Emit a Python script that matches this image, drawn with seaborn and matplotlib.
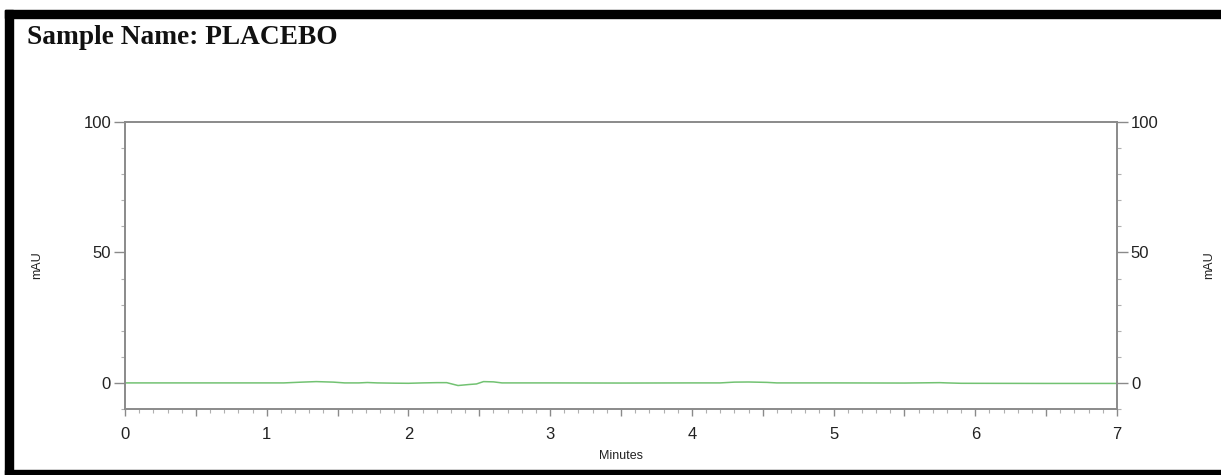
import pandas as pd
import matplotlib.pyplot as plt
import seaborn as sns
from matplotlib.ticker import MultipleLocator, FuncFormatter
from matplotlib.patches import Rectangle

# chromatogramme du placebo
minutes = [0.0, 0.5, 1.0, 1.12, 1.25, 1.35, 1.47, 1.55, 1.65, 1.71, 1.78, 1.9, 2.0,
           2.1, 2.2, 2.27, 2.35, 2.43, 2.48, 2.53, 2.6, 2.66, 3.0, 3.5, 4.0, 4.2,
           4.3, 4.4, 4.53, 4.6, 5.0, 5.5, 5.75, 5.8, 5.9, 6.5, 7.0]
mau = [0.0, 0.0, 0.0, 0.0, 0.3, 0.5, 0.3, 0.0, 0.0, 0.15, 0.0, -0.1, -0.15,
       0.0, 0.1, 0.1, -1.0, -0.6, -0.4, 0.5, 0.4, 0.0, 0.0, -0.05, 0.0, 0.0,
       0.3, 0.35, 0.2, 0.0, 0.0, -0.05, 0.1, 0.0, -0.15, -0.2, -0.2]

df = pd.DataFrame({'Minutes': minutes, 'mAU': mau})

sns.set_theme(style='white')
plt.rcParams['font.family'] = ['Liberation Sans', 'DejaVu Sans']

fig = plt.figure(figsize=(12.21, 4.75), dpi=100)
ax = fig.add_axes([125 / 1221, 66 / 475, 992 / 1221, 287 / 475])

sns.lineplot(data=df, x='Minutes', y='mAU', ax=ax, color='#72c272', linewidth=1.1)

ax.set_xlim(0, 7)
ax.set_ylim(-10, 100)

grey = '#8a8a8a'
for s in ax.spines.values():
    s.set_color(grey)
    s.set_linewidth(1.2)

# axe des x
ax.xaxis.set_major_locator(MultipleLocator(0.5))
ax.xaxis.set_minor_locator(MultipleLocator(0.1))
ax.xaxis.set_major_formatter(FuncFormatter(lambda v, p: f'{int(v)}' if abs(v - round(v)) < 1e-6 else ''))
ax.tick_params(axis='x', which='major', bottom=True, length=5, width=1, color=grey,
               labelsize=12, pad=8, labelcolor='#222222')
ax.tick_params(axis='x', which='minor', bottom=True, length=3, width=0.8, color='#b0b0b0')
ax.set_xlabel('Minutes', fontsize=9, labelpad=6, color='#222222')

# axe des y gauche
ax.yaxis.set_major_locator(MultipleLocator(50))
ax.yaxis.set_minor_locator(MultipleLocator(10))
ax.tick_params(axis='y', which='major', left=True, length=8, width=1, color=grey,
               labelsize=12, pad=2, labelcolor='#222222')
ax.tick_params(axis='y', which='minor', left=True, length=3, width=0.8, color='#b0b0b0')
ax.set_ylabel('mAU', fontsize=9, color='#222222')
ax.yaxis.set_label_coords(-0.083, 0.5)

# axe des y droit
ax2 = ax.twinx()
ax2.set_ylim(-10, 100)
ax2.yaxis.set_major_locator(MultipleLocator(50))
ax2.yaxis.set_minor_locator(MultipleLocator(10))
for s in ax2.spines.values():
    s.set_color(grey)
    s.set_linewidth(1.2)
ax2.tick_params(axis='y', which='major', right=True, length=8, width=1, color=grey,
                labelsize=12, pad=2, labelcolor='#222222')
ax2.tick_params(axis='y', which='minor', right=True, length=3, width=0.8, color='#b0b0b0')
ax2.set_ylabel('mAU', fontsize=9, rotation=90, color='#222222')
ax2.yaxis.set_label_coords(1.087, 0.5)

# titre
fig.text(27 / 1221, 1 - 38 / 475, 'Sample Name: PLACEBO', fontsize=19.7, fontweight='bold',
         family=['Liberation Serif', 'DejaVu Serif'], va='center', ha='left', color='#111111')

# cadre noir
fig.patches.append(Rectangle((5 / 1221, 0), 8 / 1221, 1 - 10 / 475, transform=fig.transFigure,
                             color='black', zorder=0))
fig.patches.append(Rectangle((5 / 1221, 1 - 18 / 475), 1, 8 / 475, transform=fig.transFigure,
                             color='black', zorder=0))
fig.patches.append(Rectangle((5 / 1221, 0), 1, 5 / 475, transform=fig.transFigure,
                             color='black', zorder=0))

fig.savefig('out.png', dpi=100)
